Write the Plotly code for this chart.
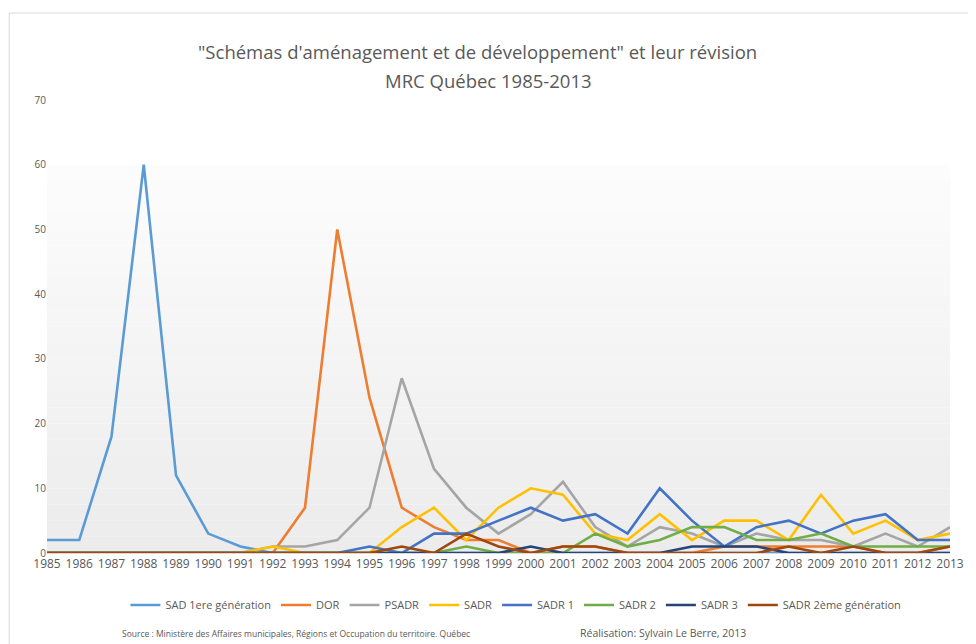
import plotly.graph_objects as go

years = list(range(1985, 2014))

sad_1ere = [2, 2, 18, 60, 12, 3, 1, 0, 0, 0, 0, 0, 0, 0, 0, 0, 0, 0, 0, 0, 0, 0, 0, 0, 0, 0, 0, 0, 0]
dor = [0, 0, 0, 0, 0, 0, 0, 0, 7, 50, 24, 7, 4, 2, 2, 0, 1, 1, 0, 0, 0, 1, 1, 1, 1, 1, 0, 0, 1]
psadr = [0, 0, 0, 0, 0, 0, 0, 1, 1, 2, 7, 27, 13, 7, 3, 6, 11, 4, 1, 4, 3, 1, 3, 2, 2, 1, 3, 1, 4]
sadr = [0, 0, 0, 0, 0, 0, 0, 1, 0, 0, 0, 4, 7, 2, 7, 10, 9, 3, 2, 6, 2, 5, 5, 2, 9, 3, 5, 2, 3]
sadr1 = [0, 0, 0, 0, 0, 0, 0, 0, 0, 0, 1, 0, 3, 3, 5, 7, 5, 6, 3, 10, 5, 1, 4, 5, 3, 5, 6, 2, 2]
sadr2 = [0, 0, 0, 0, 0, 0, 0, 0, 0, 0, 0, 0, 0, 1, 0, 0, 0, 3, 1, 2, 4, 4, 2, 2, 3, 1, 1, 1, 1]
sadr3 = [0, 0, 0, 0, 0, 0, 0, 0, 0, 0, 0, 0, 0, 0, 0, 1, 0, 0, 0, 0, 1, 1, 1, 0, 0, 0, 0, 0, 0]
sadr_2eme = [0, 0, 0, 0, 0, 0, 0, 0, 0, 0, 0, 1, 0, 3, 1, 0, 1, 1, 0, 0, 0, 0, 0, 1, 0, 1, 0, 0, 1]

series_names = ["SAD 1ere génération", "DOR", "PSADR", "SADR", "SADR 1", "SADR 2", "SADR 3",
                "SADR 2ème génération"]
series_values = [sad_1ere, dor, psadr, sadr, sadr1, sadr2, sadr3, sadr_2eme]
series_colors = ["#5B9BD5", "#ED7D31", "#A5A5A5", "#FFC000", "#4472C4", "#70AD47", "#264478", "#9E480E"]

y_ticks = [0, 10, 20, 30, 40, 50, 60, 70]

title_line1 = "\"Schémas d'aménagement et de développement\" et leur révision"
title_line2 = "MRC Québec 1985-2013"
source_text = "Source : Ministère des Affaires municipales, Régions et Occupation du territoire. Québec"
credit_text = "Réalisation: Sylvain Le Berre, 2013"

FONT = "Open Sans"
GREY = "#595959"

# figure sits 8px in from the page corner (body margin)
W, H = 968, 636
L, R, T, B = 39, 22, 92, 91
PW, PH = W - L - R, H - T - B


def px(xf):
    return (xf - 8 - L) / PW


def py(yf):
    return (H - B - (yf - 8)) / PH


fig = go.Figure()
for name, vals, col in zip(series_names, series_values, series_colors):
    fig.add_trace(go.Scatter(x=years, y=vals, name=name, mode="lines",
                             line=dict(color=col, width=2.6)))

# light gradient plot-area background (bands)
shapes = []
n_bands = 24
top_v, bot_v = 60.0, 0.0
for i in range(n_bands):
    y0 = bot_v + (top_v - bot_v) * i / n_bands
    y1 = bot_v + (top_v - bot_v) * (i + 1) / n_bands
    t = i / (n_bands - 1)
    g = int(round(236 + (252 - 236) * t))
    shapes.append(dict(type="rect", xref="x", yref="y", x0=years[0], x1=years[-1], y0=y0, y1=y1,
                       fillcolor=f"rgb({g},{g},{g})", line=dict(width=0), layer="below"))
# outer chart border
shapes.append(dict(type="rect", xref="paper", yref="paper", x0=px(9), x1=1.2, y0=-0.4, y1=py(13),
                   line=dict(color="#D9D9D9", width=1), fillcolor="rgba(0,0,0,0)", layer="below"))

annotations = [
    dict(text=title_line1, xref="paper", yref="paper", x=px(479), y=py(52),
         xanchor="center", yanchor="middle", showarrow=False,
         font=dict(family=FONT, size=18.5, color=GREY)),
    dict(text=title_line2, xref="paper", yref="paper", x=px(490), y=py(80),
         xanchor="center", yanchor="middle", showarrow=False,
         font=dict(family=FONT, size=18.5, color=GREY)),
    dict(text=source_text, xref="paper", yref="paper", x=px(120), y=py(633),
         xanchor="left", yanchor="middle", showarrow=False,
         font=dict(family=FONT, size=8.5, color=GREY)),
    dict(text=credit_text, xref="paper", yref="paper", x=px(580), y=py(633),
         xanchor="left", yanchor="middle", showarrow=False,
         font=dict(family=FONT, size=10.5, color=GREY)),
]

fig.update_layout(
    width=W, height=H,
    margin=dict(l=L, r=R, t=T, b=B, pad=0),
    paper_bgcolor="white", plot_bgcolor="white",
    font=dict(family=FONT, color=GREY),
    shapes=shapes,
    annotations=annotations,
    legend=dict(orientation="h", x=px(518), xanchor="center", y=py(605), yanchor="middle",
                font=dict(family=FONT, size=11, color=GREY), itemwidth=30,
                tracegroupgap=0, itemclick=False, bgcolor="rgba(0,0,0,0)"),
    showlegend=True,
)
fig.update_xaxes(range=[years[0], years[-1]], tickmode="array", tickvals=years,
                 ticktext=[str(y) for y in years], showgrid=False, zeroline=False,
                 showline=True, linecolor="#D9D9D9", ticks="",
                 tickfont=dict(family=FONT, size=12, color=GREY))
fig.update_yaxes(range=[0, 70], tickmode="array", tickvals=y_ticks, showgrid=False,
                 zeroline=False, showline=False, ticks="",
                 tickfont=dict(family=FONT, size=10, color=GREY))

fig.write_html("out.html")
